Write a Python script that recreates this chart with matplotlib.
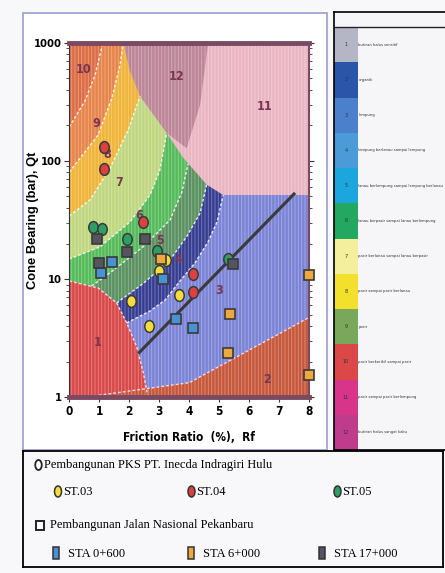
import matplotlib
matplotlib.use("Agg")
import matplotlib.pyplot as plt
from matplotlib import font_manager as fm
from matplotlib.patches import Polygon, Rectangle, Ellipse
from matplotlib.markers import MarkerStyle
from matplotlib.transforms import Affine2D

W, H = 445, 573
SERIF = ['Liberation Serif', 'DejaVu Serif']

# pick a narrow sans face if one is installed
NARROW = {'family': ['Liberation Sans', 'DejaVu Sans']}
small_size = 3.1
if 'Narrow' in fm.findfont(fm.FontProperties(family='Liberation Sans Narrow')):
    NARROW = {'family': ['Liberation Sans Narrow', 'DejaVu Sans']}
    small_size = 3.9
elif 'Condensed' in fm.findfont(fm.FontProperties(family='DejaVu Sans', stretch='condensed')):
    NARROW = {'family': ['DejaVu Sans'], 'stretch': 'condensed'}
    small_size = 3.6

# ---- zone boundaries (Rf %, qt bar) ----
b10_9_x = [0, 0.52, 0.86, 1.12]
b10_9_y = [194, 321, 533, 1000]
b9_8_x = [0, 0.96, 1.42, 1.69, 1.8]
b9_8_y = [80.5, 166, 341, 647, 1000]
b8_7_x = [0, 0.69, 1.36, 1.96, 2.357]
b8_7_y = [34.2, 46.7, 87, 182, 352]
b7_6_x = [0, 1.02, 2.02, 2.69, 3.02, 3.247]
b7_6_y = [14.8, 18.7, 30.4, 51.4, 83.8, 172]
b6_5_x = [0.747, 1.357, 2.467, 3.357, 3.757, 3.957]
b6_5_y = [8.75, 11.3, 18.8, 31.6, 54.6, 94.2]
b5_4_x = [1.58, 2.467, 3.357, 3.913, 4.357, 4.58]
b5_4_y = [6.28, 9.2, 14.5, 22.9, 36.1, 63]
b4_3_x = [1.913, 2.69, 3.19, 3.69, 4.19, 4.623, 4.923, 5.13]
b4_3_y = [4.26, 5.37, 6.65, 9.64, 13.7, 20.6, 30.4, 51.4]
z1_x = [0, 0.967, 1.58, 1.913, 2.247, 2.467, 2.58, 2.62]
z1_y = [9.64, 8.4, 6.28, 4.26, 2.67, 1.61, 1.15, 1.0]
z2_x = [0.5, 4.0, 8.0]
z2_y = [1.0, 1.33, 4.75]
z11_x = [2.357, 3.247, 3.80, 4.58, 5.13, 8.0]
z11_y = [352, 172, 106, 63, 51.4, 51.4]
z12_x = [1.8, 2.02, 2.357, 3.247, 3.91, 4.36, 4.63]
z12_y = [1000, 575, 352, 172, 128, 298, 1000]

zone_names = ['1', '2', '3', '4', '5', '6', '7', '8', '9', '10', '11', '12']
zone_lab_x = [0.93, 6.58, 5.0, 3.63, 3.02, 2.33, 1.66, 1.27, 0.91, 0.47, 6.52, 3.56]
zone_lab_y = [2.9, 1.42, 8.0, 14.7, 21.4, 34.8, 65.5, 114, 208, 588, 291, 522]

# ---- measured points ----
st03_x = [3.21, 3.0, 3.67, 2.06, 2.67]
st03_y = [14.5, 11.6, 7.4, 6.5, 4.0]
st04_x = [1.16, 1.16, 2.44, 4.11, 4.13]
st04_y = [132, 86, 30.4, 11, 7.8]
st05_x = [0.78, 1.08, 1.91, 2.91, 5.28]
st05_y = [27.8, 26.7, 21.7, 17.2, 14.9]
sta0600_x = [1.04, 1.42, 3.13, 3.56, 4.11]
sta0600_y = [11.2, 14.0, 10.0, 4.6, 3.84]
sta6000_x = [3.07, 5.36, 5.28, 7.98, 7.98]
sta6000_y = [14.7, 5.07, 2.39, 10.9, 1.53]
sta17000_x = [0.91, 0.99, 1.93, 2.53, 5.47]
sta17000_y = [22, 13.6, 17, 22, 13.4]

fit_x = [2.33, 7.49]
fit_y = [2.39, 52.5]

legend_texts = [
    'butiran halus sensitif', 'organik', 'lempung',
    'lempung berlanau sampai lempung',
    'lanau berlempung sampai lempung berlanau',
    'lanau berpasir sampai lanau berlempung',
    'pasir berlanau sampai lanau berpasir',
    'pasir sampai pasir berlanau', 'pasir',
    'pasir berkerikil sampai pasir',
    'pasir sampai pasir berlempung',
    'butiran halus sangat kaku']
legend_colors = ['#b4b6c6', '#2a55a8', '#4a80cc', '#4b9bd8', '#1ba7dd', '#23a862',
                 '#f3ef9c', '#f2e02c', '#7aa85a', '#dc4848', '#d8348a', '#bf3c8c']

zone_colors = {'1': '#d94848', '2': '#c6573a', '3': '#7b83d6', '4': '#363c92',
               '5': '#5a9160', '6': '#55bb5a', '7': '#bfd77e', '8': '#efb438',
               '9': '#e6844a', '10': '#dc6c44', '11': '#e9b5c2', '12': '#bd8598'}

plt.rcParams['hatch.linewidth'] = 0.7

fig = plt.figure(figsize=(W / 100, H / 100), dpi=100)
fig.patch.set_facecolor('#f8f8fa')


def px_axes(x0, y0, x1, y1):
    return fig.add_axes([x0 / W, 1 - y1 / H, (x1 - x0) / W, (y1 - y0) / H])


# outer frame round the chart
fig.add_artist(Rectangle((23 / W, 1 - 450 / H), (326.7 - 23) / W, (450 - 13) / H,
                         transform=fig.transFigure, facecolor='white',
                         edgecolor='#9c9cd0', lw=1.2, zorder=0))

ax = px_axes(69.3, 42.7, 309.3, 397.3)
ax.set_yscale('log')
ax.set_xlim(0, 8)
ax.set_ylim(1, 1000)


def below(bx, by):
    return list(zip(bx, by)) + [(8, by[-1]), (8, 1), (0, 1)]


ax.add_patch(Polygon(below([0], [1000]), closed=True, fc=zone_colors['10'], lw=0, zorder=1))
layers = [(b10_9_x, b10_9_y, '9'), (b9_8_x, b9_8_y, '8'), (b8_7_x, b8_7_y, '7'),
          (b7_6_x, b7_6_y, '6'), (b6_5_x, b6_5_y, '5'), (b5_4_x, b5_4_y, '4'),
          (b4_3_x, b4_3_y, '3')]
for bx, by, z in layers:
    ax.add_patch(Polygon(below(bx, by), closed=True, fc=zone_colors[z], lw=0, zorder=1))
ax.add_patch(Polygon(list(zip(z11_x, z11_y)) + [(8, 1000), (z11_x[0], 1000)],
                     closed=True, fc=zone_colors['11'], lw=0, zorder=1))
ax.add_patch(Polygon(list(zip(z12_x, z12_y)), closed=True, fc=zone_colors['12'], lw=0, zorder=1))
ax.add_patch(Polygon([(0, 1)] + list(zip(z1_x, z1_y)), closed=True, fc=zone_colors['1'], lw=0, zorder=1))
ax.add_patch(Polygon(list(zip(z2_x, z2_y)) + [(8, 1)], closed=True, fc=zone_colors['2'], lw=0, zorder=1))

# scan stripes
ax.add_patch(Rectangle((0, 0), 1, 1, transform=ax.transAxes, fc='none',
                       ec=(1, 1, 1, 0.3), lw=0, hatch='|||||', zorder=1.5))

for bx, by, z in layers:
    ax.plot(bx, by, color='white', lw=1.0, ls=(0, (2, 1.5)), alpha=0.85, zorder=2)
ax.plot(z1_x, z1_y, color='#f6d8e0', lw=1.0, ls=(0, (2, 1.5)), zorder=2)
ax.plot(z2_x, z2_y, color='#f6d8e0', lw=1.0, ls=(0, (2, 1.5)), zorder=2)

for name, lx, ly in zip(zone_names, zone_lab_x, zone_lab_y):
    ax.text(lx, ly, name, color='#7b3652', fontsize=9, fontweight='bold',
            ha='center', va='center', zorder=3, **NARROW)

ax.plot(fit_x, fit_y, color='#3a3a3a', lw=2.2, zorder=4)

oval = MarkerStyle('o', transform=Affine2D().scale(0.8, 1.0))
for xs, ys, c in [(st03_x, st03_y, '#f4dc3c'), (st04_x, st04_y, '#dc4040'),
                  (st05_x, st05_y, '#2e9e64')]:
    ax.plot(xs, ys, ls='none', marker=oval, ms=8.5, mfc=c, mec='#3a3a3a', mew=1.1, zorder=5)
for xs, ys, c in [(sta0600_x, sta0600_y, '#4a90d4'), (sta6000_x, sta6000_y, '#f0a83c'),
                  (sta17000_x, sta17000_y, '#55555f')]:
    ax.plot(xs, ys, ls='none', marker='s', ms=7, mfc=c, mec='#3a3a3a', mew=1.2,
            zorder=5, clip_on=False)

ax.set_xticks(range(9))
ax.set_xticklabels([str(i) for i in range(9)], fontweight='bold', fontsize=8.5, **NARROW)
ax.set_yticks([1, 10, 100, 1000])
ax.set_yticklabels(['1', '10', '100', '1000'], fontweight='bold', fontsize=8, **NARROW)
ax.tick_params(which='both', left=True, right=True, direction='out', color='#333')
ax.tick_params(which='major', length=3.5, pad=2)
ax.tick_params(which='minor', length=2)
for s in ['top', 'bottom']:
    ax.spines[s].set_color('#7a4a62')
    ax.spines[s].set_linewidth(3.5)
ax.spines['left'].set_color('#333')
ax.spines['right'].set_color('#7a4a62')
ax.spines['right'].set_linewidth(1.5)
ax.set_xlabel('Friction Ratio  (%),  Rf', fontweight='bold', fontsize=8.5, **NARROW)
ax.xaxis.set_label_coords(0.5, -0.095)
ax.set_ylabel('Cone Bearing (bar), Qt', fontweight='bold', fontsize=9.3,
              family=['Liberation Sans', 'DejaVu Sans'])
ax.yaxis.set_label_coords(-0.128, 0.5)

# ---- soil type legend on the right ----
leg = px_axes(334, 11.7, 445, 450)
leg.set_xlim(334, 445)
leg.set_ylim(450, 11.7)
leg.set_xticks([])
leg.set_yticks([])
leg.set_facecolor('#f6f6f8')
leg.spines['right'].set_visible(False)
for s in ['left', 'top', 'bottom']:
    leg.spines[s].set_linewidth(1.2)
leg.plot([334, 445], [27, 27], color='#222', lw=1)
row_h = (450 - 27) / len(legend_texts)
leg_labels = []
for i, (t, c) in enumerate(zip(legend_texts, legend_colors)):
    top = 27 + i * row_h
    leg.add_patch(Rectangle((334, top), 24, row_h, fc=c, lw=0))
    leg.text(346, top + row_h / 2, zone_names[i], fontsize=4, color='#333',
             ha='center', va='center', **NARROW)
    leg_labels.append(leg.text(358.5, top + row_h / 2, t, fontsize=small_size, color='#333',
                               ha='left', va='center', **NARROW))

# one common size for the soil names, small enough for the longest one
renderer = fig.canvas.get_renderer()
scale = 1.0
for t in leg_labels:
    bb = t.get_window_extent(renderer)
    room = W - 4 - bb.x0
    scale = min(scale, room / bb.width)
for t in leg_labels:
    t.set_fontsize(small_size * scale)

# ---- station legend at the bottom ----
bl = px_axes(22.7, 450.7, 443, 566.7)
bl.set_xlim(22.7, 443)
bl.set_ylim(566.7, 450.7)
bl.set_xticks([])
bl.set_yticks([])
bl.set_facecolor('#f8f8fa')
for s in bl.spines.values():
    s.set_linewidth(1.3)

bl.add_patch(Ellipse((38.5, 465), 6.5, 10, fc='white', ec='#222', lw=1.3))
bl.text(43.5, 465, 'Pembangunan PKS PT. Inecda Indragiri Hulu', family=SERIF, fontsize=9, va='center')
for cx, c, t in [(58, '#f4dc3c', 'ST.03'), (191.5, '#dc4040', 'ST.04'), (337.5, '#2e9e64', 'ST.05')]:
    bl.add_patch(Ellipse((cx, 491.5), 7, 11, fc=c, ec='#333', lw=1.1))
    bl.text(cx + 5, 492.5, t, family=SERIF, fontsize=9, va='center')
bl.add_patch(Rectangle((35.5, 521), 8, 9, fc='white', ec='#222', lw=1.4))
bl.text(50, 525.5, 'Pembangunan Jalan Nasional Pekanbaru', family=SERIF, fontsize=9, va='center')
for cx, c, t in [(56, '#4a90d4', 'STA 0+600'), (191, '#f0a83c', 'STA 6+000'), (322, '#55555f', 'STA 17+000')]:
    bl.add_patch(Rectangle((cx - 3, 547.5), 6, 12, fc=c, ec='#333', lw=1.1))
    bl.text(cx + 12, 554, t, family=SERIF, fontsize=9, va='center')

fig.savefig('out.png', dpi=100, facecolor=fig.get_facecolor())
